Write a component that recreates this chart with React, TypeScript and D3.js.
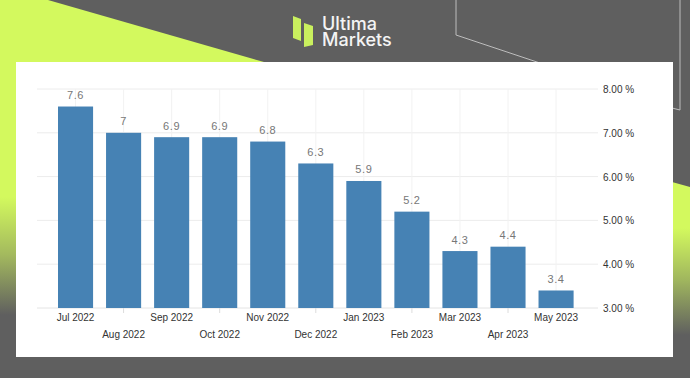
import React from "react";
import * as d3 from "d3";

const categories = ["Jul 2022","Aug 2022","Sep 2022","Oct 2022","Nov 2022","Dec 2022","Jan 2023","Feb 2023","Mar 2023","Apr 2023","May 2023"];
const values = [7.6, 7, 6.9, 6.9, 6.8, 6.3, 5.9, 5.2, 4.3, 4.4, 3.4];
const yTicks = [3, 4, 5, 6, 7, 8];

const W = 690, H = 378;
const GRAY = "#5f5f5f";
const LIME = "#d3f95e";

export default function App() {
  const x = d3.scaleBand<string>().domain(categories).range([58, 573.6]).paddingInner(0.27).paddingOuter(0);
  const y = d3.scaleLinear().domain([3, 8]).range([308, 89]);
  const font = "'Liberation Sans', Arial, sans-serif";
  return (
    <svg width={W} height={H} style={{ position: "absolute", left: 0, top: 0, display: "block" }}>
      <defs>
        <linearGradient id="gl" gradientUnits="userSpaceOnUse" x1="0" y1="0" x2="0" y2={H}>
          <stop offset={197 / H} stopColor={LIME} />
          <stop offset={255 / H} stopColor="#a3b95e" />
          <stop offset={315 / H} stopColor={GRAY} />
        </linearGradient>
        <linearGradient id="gr" gradientUnits="userSpaceOnUse" x1="0" y1="0" x2="0" y2={H}>
          <stop offset={228 / H} stopColor={LIME} />
          <stop offset={280 / H} stopColor="#a0b65e" />
          <stop offset={335 / H} stopColor={GRAY} />
        </linearGradient>
      </defs>
      <rect x={0} y={0} width={W} height={H} fill={GRAY} />
      <polygon points={`0,0 48,0 264,62 264,${H} 0,${H}`} fill="url(#gl)" />
      <polygon points={`600,162 ${W},187 ${W},${H} 600,${H}`} fill="url(#gr)" />
      <polyline points="456,0 456,35 540,63" fill="none" stroke="#bdbdbd" strokeWidth={1} />
      <polyline points="680,0 680,110 672,108" fill="none" stroke="#bdbdbd" strokeWidth={1} />
      {/* logo */}
      <polygon points="293,16 301,19 301,41 293,38" fill="#c9f05e" />
      <polygon points="304,23 313,26 313,45 304,47" fill="#c9f05e" />
      <text fontFamily="Inter, sans-serif" fontWeight={500} fontSize={18} fill="#f4f4f4">
        <tspan x={322} y={30}>Ultima</tspan>
        <tspan x={322} y={46}>Markets</tspan>
      </text>
      {/* card */}
      <rect x={16} y={62} width={657} height={295} fill="#ffffff" />
      {/* gridlines */}
      {yTicks.map((t) => (
        <line key={"g" + t} x1={37} x2={598} y1={y(t)} y2={y(t)} stroke={t === 3 ? "#e4e4e4" : "#ececec"} strokeWidth={1} />
      ))}
      {categories.map((c) => (
        <line key={"v" + c} x1={x(c)! + x.bandwidth() / 2} x2={x(c)! + x.bandwidth() / 2} y1={89} y2={308} stroke="#f2f2f2" strokeWidth={1} />
      ))}
      {categories.map((c, i) => (
        <rect key={"b" + c} x={x(c)!} y={y(values[i])} width={x.bandwidth()} height={y(3) - y(values[i])} fill="#4682b4" />
      ))}
      {categories.map((c, i) => (
        <text key={"l" + c} x={x(c)! + x.bandwidth() / 2} y={y(values[i]) - 7.5} textAnchor="middle" fontFamily={font} fontSize={11} letterSpacing={0.6} fill="#777777">{values[i]}</text>
      ))}
      {categories.map((c, i) => i % 2 === 1 ? (
        <line key={"t" + c} x1={x(c)! + x.bandwidth() / 2} x2={x(c)! + x.bandwidth() / 2} y1={308} y2={313} stroke="#dcdcdc" />
      ) : null)}
      {categories.map((c, i) => (
        <text key={"x" + c} x={x(c)! + x.bandwidth() / 2} y={i % 2 === 0 ? 321 : 337.5} textAnchor="middle" fontFamily={font} fontSize={10} fill="#333333">{c}</text>
      ))}
      {yTicks.map((t) => (
        <text key={"y" + t} x={603} y={y(t) + 4} fontFamily={font} fontSize={10} fill="#333333">{t.toFixed(2) + " %"}</text>
      ))}
    </svg>
  );
}
